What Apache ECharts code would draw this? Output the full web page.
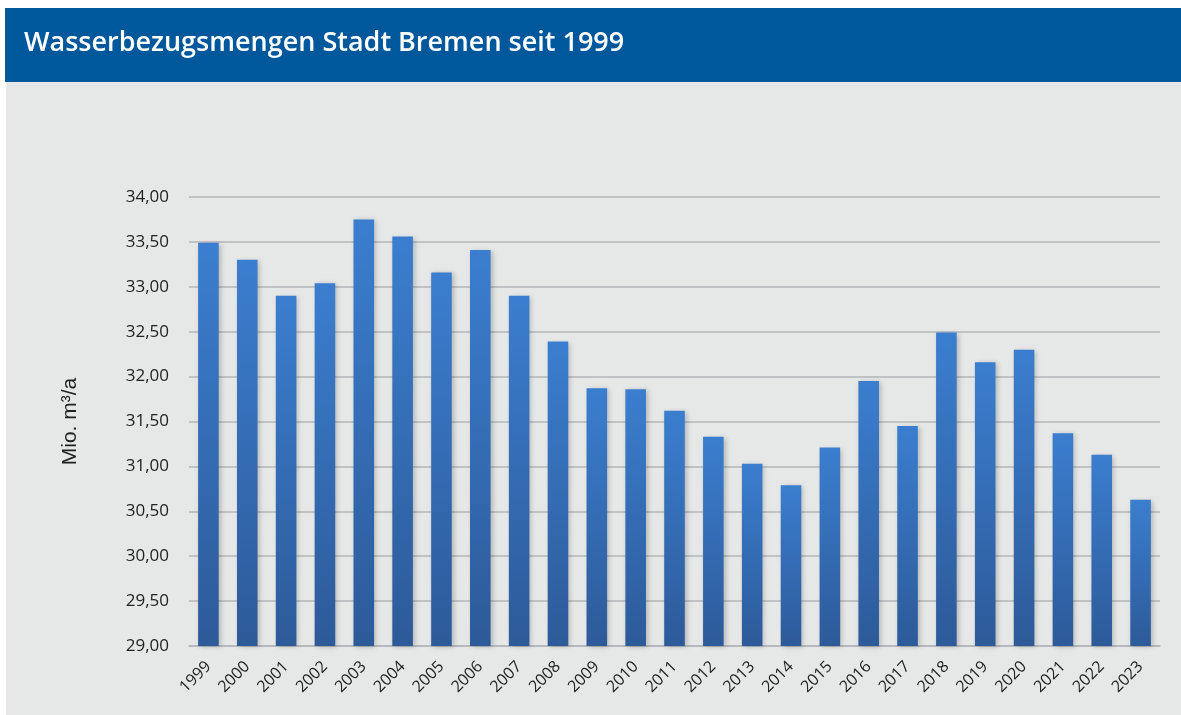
<!DOCTYPE html>
<html>
<head>
<meta charset="utf-8">
<title>Wasserbezugsmengen Stadt Bremen seit 1999</title>
<script src="https://cdn.jsdelivr.net/npm/echarts@6/dist/echarts.min.js"></script>
<style>
  html, body { margin: 0; padding: 0; background: #ffffff; }
  #chart { width: 1181px; height: 715px; }
</style>
</head>
<body>
<div id="chart"></div>
<script>
// Jahre (Kategorien)
const years = ['1999','2000','2001','2002','2003','2004','2005','2006','2007','2008',
  '2009','2010','2011','2012','2013','2014','2015','2016','2017','2018',
  '2019','2020','2021','2022','2023'];

// Wasserbezug in Mio. m³ pro Jahr
const bezug = [33.49, 33.30, 32.90, 33.04, 33.75, 33.56, 33.16, 33.41, 32.90, 32.39,
  31.87, 31.86, 31.62, 31.33, 31.03, 30.79, 31.21, 31.95, 31.45, 32.49,
  32.16, 32.30, 31.37, 31.13, 30.63];

// Achsenbereich
const yMin = 29;
const yMax = 34;
const yStep = 0.5;

const chart = echarts.init(document.getElementById('chart'), null, { renderer: 'canvas' });

const fmt = v => v.toFixed(2).replace('.', ',');

chart.setOption({
  animation: false,
  backgroundColor: '#ffffff',
  graphic: [
    { type: 'rect', z: -10, shape: { x: 6, y: 82, width: 1175, height: 633 },
      style: { fill: '#e6e7e7' } },
    { type: 'rect', z: -10, shape: { x: 5, y: 8, width: 1176, height: 74 },
      style: { fill: '#00589c' } },
    { type: 'text', z: 10, left: 24, top: 30,
      style: { text: 'Wasserbezugsmengen Stadt Bremen seit 1999', fill: '#ffffff',
        font: '600 27px "Open Sans", sans-serif' } }
  ],
  grid: { left: 189, right: 21, top: 197, bottom: 69, containLabel: false },
  xAxis: {
    type: 'category',
    data: years,
    axisLine: { show: true, lineStyle: { color: '#b5b6b9', width: 1.5 } },
    axisTick: { show: false },
    axisLabel: {
      rotate: 45, margin: 18, color: '#222222', interval: 0,
      fontFamily: '"Open Sans", sans-serif', fontSize: 16
    }
  },
  yAxis: {
    type: 'value',
    min: yMin, max: yMax, interval: yStep,
    name: 'Mio. m³/a',
    nameLocation: 'middle',
    nameGap: 108,
    nameRotate: 90,
    nameTextStyle: { color: '#222222', fontFamily: '"Liberation Sans", Arial, sans-serif', fontSize: 21 },
    axisLine: { show: false },
    axisTick: { show: false },
    axisLabel: {
      margin: 20, color: '#222222',
      fontFamily: '"Open Sans", sans-serif', fontSize: 17,
      formatter: fmt
    },
    splitLine: { lineStyle: { color: '#b5b6b9', width: 1.5 } }
  },
  series: [{
    type: 'bar',
    data: bezug,
    barCategoryGap: '47%',
    itemStyle: {
      color: new echarts.graphic.LinearGradient(0, 0, 0, 1, [
        { offset: 0, color: '#3b7ecf' },
        { offset: 1, color: '#2d5a99' }
      ]),
      shadowColor: 'rgba(0,0,0,0.22)',
      shadowBlur: 5,
      shadowOffsetX: 2,
      shadowOffsetY: 1
    }
  }]
});
</script>
</body>
</html>
